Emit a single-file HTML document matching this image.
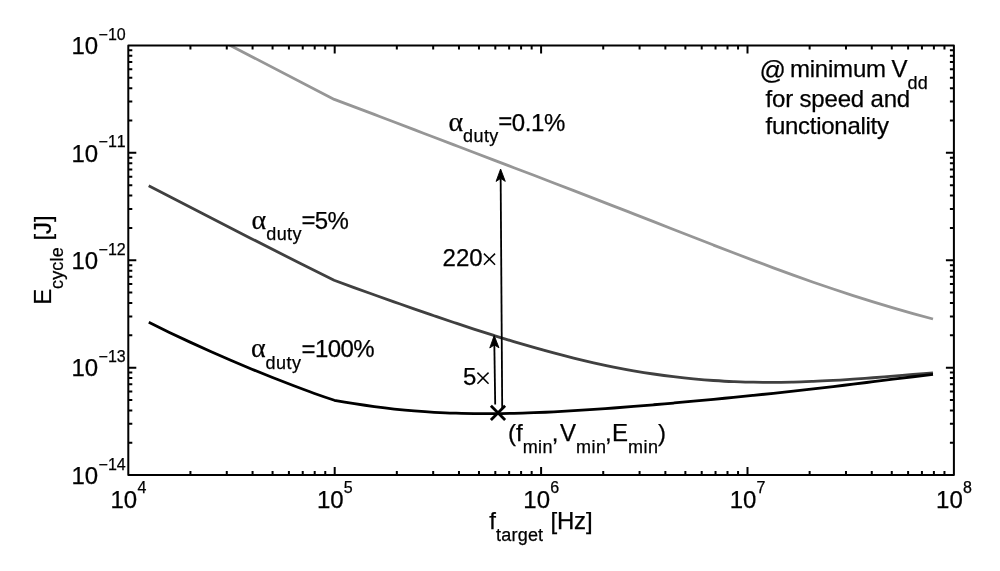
<!DOCTYPE html>
<html lang="en"><head><meta charset="utf-8"><title>E_cycle vs f_target</title>
<style>
html,body{margin:0;padding:0;background:#fff;}
body{width:1000px;height:571px;overflow:hidden;}
svg{display:block;}
text{font-family:"Liberation Sans",sans-serif;fill:#000;stroke:#000;stroke-width:0.25px;font-kerning:none;}
.m{font-size:24px;}
.s{font-size:18px;letter-spacing:0.45px;}
.e{font-size:16px;}
.g{font-family:"Liberation Serif",serif;}
.x{font-family:"Liberation Serif",serif;font-size:30px;stroke:none;}
.a{font-family:"Liberation Serif",serif;font-size:28px;}
</style></head><body>
<svg width="1000" height="571" viewBox="0 0 1000 571">
<rect x="0" y="0" width="1000" height="571" fill="#ffffff"/>
<defs><clipPath id="ax"><rect x="128.3" y="45.4" width="825.6" height="429.65"/></clipPath></defs>
<g fill="none" stroke-width="2.8" stroke-linejoin="round" clip-path="url(#ax)">
<path stroke="#969696" d="M148.7 3.2 L334.3 99.42 C340.95 101.87 347.6 104.34 354.26 106.83 C360.91 109.33 367.56 111.85 374.21 114.38 C380.87 116.9 387.52 119.45 394.17 121.99 C400.82 124.53 407.47 127.08 414.13 129.62 C420.78 132.17 427.43 134.71 434.08 137.26 C440.74 139.8 447.39 142.34 454.04 144.88 C460.69 147.42 467.34 149.95 474 152.49 C480.65 155.02 487.3 157.55 493.95 160.09 C500.61 162.62 507.26 165.15 513.91 167.69 C520.56 170.22 527.21 172.76 533.87 175.3 C540.52 177.84 547.17 180.39 553.82 182.94 C560.48 185.49 567.13 188.05 573.78 190.61 C580.43 193.17 587.08 195.74 593.74 198.32 C600.39 200.89 607.04 203.48 613.69 206.07 C620.35 208.66 627 211.25 633.65 213.85 C640.3 216.45 646.95 219.06 653.61 221.66 C660.26 224.27 666.91 226.88 673.56 229.48 C680.22 232.09 686.87 234.7 693.52 237.3 C700.17 239.89 706.82 242.49 713.48 245.07 C720.13 247.65 726.78 250.23 733.43 252.78 C740.09 255.33 746.74 257.87 753.39 260.38 C760.04 262.89 766.69 265.38 773.35 267.84 C780 270.3 786.65 272.74 793.3 275.13 C799.96 277.52 806.61 279.88 813.26 282.2 C819.91 284.52 826.56 286.8 833.22 289.03 C839.87 291.26 846.52 293.45 853.17 295.59 C859.83 297.72 866.48 299.82 873.13 301.86 C879.78 303.9 886.43 305.89 893.09 307.84 C899.74 309.78 906.39 311.68 913.04 313.54 C919.7 315.4 926.35 317.23 933 319.01"/>
<path stroke="#404040" d="M148.7 185.7 C182.47 203.27 216.23 220.64 250 237.9 C266.67 246.42 283.33 254.94 300 263.3 C311.37 269 322.73 274.64 334.1 280.23 C340.75 282.71 347.41 285.16 354.06 287.58 C360.72 290.01 367.37 292.4 374.03 294.78 C380.68 297.16 387.34 299.52 393.99 301.87 C400.64 304.21 407.3 306.54 413.95 308.85 C420.61 311.16 427.26 313.45 433.92 315.72 C440.57 317.99 447.23 320.24 453.88 322.46 C460.53 324.68 467.19 326.88 473.84 329.05 C480.5 331.21 487.15 333.34 493.81 335.43 C500.46 337.52 507.12 339.58 513.77 341.57 C520.42 343.57 527.08 345.53 533.73 347.43 C540.39 349.32 547.04 351.17 553.7 352.94 C560.35 354.71 567.01 356.43 573.66 358.07 C580.31 359.71 586.97 361.29 593.62 362.77 C600.28 364.26 606.93 365.69 613.59 367.02 C620.24 368.34 626.9 369.61 633.55 370.76 C640.2 371.92 646.86 373.01 653.51 373.99 C660.17 374.97 666.82 375.89 673.48 376.69 C680.13 377.49 686.79 378.23 693.44 378.85 C700.09 379.47 706.75 380.04 713.4 380.48 C720.06 380.92 726.71 381.32 733.37 381.59 C740.02 381.85 746.68 382.12 753.33 382.2 C759.98 382.28 766.64 382.34 773.29 382.34 C779.95 382.34 786.6 382.2 793.26 382.07 C799.91 381.94 806.57 381.67 813.22 381.41 C819.87 381.15 826.53 380.8 833.18 380.43 C839.84 380.07 846.49 379.64 853.15 379.19 C859.8 378.75 866.46 378.25 873.11 377.75 C879.76 377.24 886.42 376.7 893.07 376.16 C899.73 375.62 906.38 375.06 913.04 374.5 C919.69 373.95 926.35 373.39 933 372.83"/>
<path stroke="#000000" d="M148.8 322.34 C155.67 325.76 162.55 329.11 169.42 332.41 C176.3 335.7 183.17 338.95 190.04 342.13 C196.92 345.31 203.79 348.44 210.67 351.5 C217.54 354.57 224.41 357.58 231.29 360.53 C238.16 363.49 245.04 366.38 251.91 369.22 C258.79 372.06 265.66 374.84 272.53 377.56 C279.41 380.28 286.28 382.95 293.16 385.56 C300.03 388.16 306.9 390.76 313.78 393.21 C320.65 395.65 327.53 398.01 334.4 400.26 C341.05 401.49 347.7 402.65 354.35 403.71 C361 404.76 367.66 405.76 374.31 406.64 C380.96 407.52 387.61 408.34 394.26 409.04 C400.91 409.74 407.56 410.39 414.21 410.91 C420.86 411.44 427.52 411.92 434.17 412.28 C440.82 412.64 447.47 412.97 454.12 413.16 C460.77 413.36 467.42 413.58 474.07 413.61 C480.72 413.63 487.38 413.65 494.03 413.65 C500.68 413.65 507.33 413.47 513.98 413.33 C520.63 413.2 527.28 412.96 533.93 412.71 C540.58 412.47 547.24 412.15 553.89 411.83 C560.54 411.5 567.19 411.12 573.84 410.72 C580.49 410.32 587.14 409.88 593.79 409.43 C600.44 408.97 607.1 408.49 613.75 407.99 C620.4 407.49 627.05 406.96 633.7 406.43 C640.35 405.89 647 405.33 653.65 404.77 C660.3 404.2 666.96 403.62 673.61 403.03 C680.26 402.43 686.91 401.83 693.56 401.21 C700.21 400.6 706.86 399.97 713.51 399.33 C720.16 398.69 726.82 398.05 733.47 397.39 C740.12 396.73 746.77 396.05 753.42 395.37 C760.07 394.69 766.72 393.99 773.37 393.28 C780.02 392.57 786.68 391.85 793.33 391.12 C799.98 390.38 806.63 389.63 813.28 388.87 C819.93 388.11 826.58 387.33 833.23 386.54 C839.88 385.76 846.54 384.95 853.19 384.15 C859.84 383.34 866.49 382.51 873.14 381.69 C879.79 380.87 886.44 380.03 893.09 379.21 C899.74 378.38 906.4 377.55 913.05 376.74 C919.7 375.94 926.35 375.14 933 374.36"/>
</g>
<path d="M190.43 475.05 v-4 M190.43 45.4 v4 M226.78 475.05 v-4 M226.78 45.4 v4 M252.57 475.05 v-4 M252.57 45.4 v4 M272.57 475.05 v-4 M272.57 45.4 v4 M288.91 475.05 v-4 M288.91 45.4 v4 M302.73 475.05 v-4 M302.73 45.4 v4 M314.7 475.05 v-4 M314.7 45.4 v4 M325.26 475.05 v-4 M325.26 45.4 v4 M334.7 475.05 v-8 M334.7 45.4 v8 M396.83 475.05 v-4 M396.83 45.4 v4 M433.18 475.05 v-4 M433.18 45.4 v4 M458.97 475.05 v-4 M458.97 45.4 v4 M478.97 475.05 v-4 M478.97 45.4 v4 M495.31 475.05 v-4 M495.31 45.4 v4 M509.13 475.05 v-4 M509.13 45.4 v4 M521.1 475.05 v-4 M521.1 45.4 v4 M531.66 475.05 v-4 M531.66 45.4 v4 M541.1 475.05 v-8 M541.1 45.4 v8 M603.23 475.05 v-4 M603.23 45.4 v4 M639.58 475.05 v-4 M639.58 45.4 v4 M665.37 475.05 v-4 M665.37 45.4 v4 M685.37 475.05 v-4 M685.37 45.4 v4 M701.71 475.05 v-4 M701.71 45.4 v4 M715.53 475.05 v-4 M715.53 45.4 v4 M727.5 475.05 v-4 M727.5 45.4 v4 M738.06 475.05 v-4 M738.06 45.4 v4 M747.5 475.05 v-8 M747.5 45.4 v8 M809.63 475.05 v-4 M809.63 45.4 v4 M845.98 475.05 v-4 M845.98 45.4 v4 M871.77 475.05 v-4 M871.77 45.4 v4 M891.77 475.05 v-4 M891.77 45.4 v4 M908.11 475.05 v-4 M908.11 45.4 v4 M921.93 475.05 v-4 M921.93 45.4 v4 M933.9 475.05 v-4 M933.9 45.4 v4 M944.46 475.05 v-4 M944.46 45.4 v4 M128.3 442.72 h4 M953.9 442.72 h-4 M128.3 423.8 h4 M953.9 423.8 h-4 M128.3 410.38 h4 M953.9 410.38 h-4 M128.3 399.97 h4 M953.9 399.97 h-4 M128.3 391.47 h4 M953.9 391.47 h-4 M128.3 384.28 h4 M953.9 384.28 h-4 M128.3 378.05 h4 M953.9 378.05 h-4 M128.3 372.55 h4 M953.9 372.55 h-4 M128.3 367.64 h8 M953.9 367.64 h-8 M128.3 335.3 h4 M953.9 335.3 h-4 M128.3 316.39 h4 M953.9 316.39 h-4 M128.3 302.97 h4 M953.9 302.97 h-4 M128.3 292.56 h4 M953.9 292.56 h-4 M128.3 284.05 h4 M953.9 284.05 h-4 M128.3 276.86 h4 M953.9 276.86 h-4 M128.3 270.63 h4 M953.9 270.63 h-4 M128.3 265.14 h4 M953.9 265.14 h-4 M128.3 260.23 h8 M953.9 260.23 h-8 M128.3 227.89 h4 M953.9 227.89 h-4 M128.3 208.98 h4 M953.9 208.98 h-4 M128.3 195.56 h4 M953.9 195.56 h-4 M128.3 185.15 h4 M953.9 185.15 h-4 M128.3 176.64 h4 M953.9 176.64 h-4 M128.3 169.45 h4 M953.9 169.45 h-4 M128.3 163.22 h4 M953.9 163.22 h-4 M128.3 157.73 h4 M953.9 157.73 h-4 M128.3 152.81 h8 M953.9 152.81 h-8 M128.3 120.48 h4 M953.9 120.48 h-4 M128.3 101.56 h4 M953.9 101.56 h-4 M128.3 88.14 h4 M953.9 88.14 h-4 M128.3 77.73 h4 M953.9 77.73 h-4 M128.3 69.23 h4 M953.9 69.23 h-4 M128.3 62.04 h4 M953.9 62.04 h-4 M128.3 55.81 h4 M953.9 55.81 h-4 M128.3 50.31 h4 M953.9 50.31 h-4" stroke="#000" stroke-width="2.0" fill="none"/>
<rect x="128.3" y="45.4" width="825.6" height="429.65" fill="none" stroke="#000" stroke-width="2.0" stroke-linejoin="round"/>
<text class="m" x="110.5" y="507.5">10<tspan class="e" dy="-14.5" dx="0.2">4</tspan></text>
<text class="m" x="316.9" y="507.5">10<tspan class="e" dy="-14.5" dx="0.2">5</tspan></text>
<text class="m" x="523.3" y="507.5">10<tspan class="e" dy="-14.5" dx="0.2">6</tspan></text>
<text class="m" x="729.7" y="507.5">10<tspan class="e" dy="-14.5" dx="0.2">7</tspan></text>
<text class="m" x="936.1" y="507.5">10<tspan class="e" dy="-14.5" dx="0.2">8</tspan></text>
<text class="m" x="71.4" y="483.75">10<tspan class="e" dy="-14.2" dx="0.5">−14</tspan></text>
<text class="m" x="71.4" y="376.34">10<tspan class="e" dy="-14.2" dx="0.5">−13</tspan></text>
<text class="m" x="71.4" y="268.93">10<tspan class="e" dy="-14.2" dx="0.5">−12</tspan></text>
<text class="m" x="71.4" y="161.51">10<tspan class="e" dy="-14.2" dx="0.5">−11</tspan></text>
<text class="m" x="71.4" y="54.1">10<tspan class="e" dy="-14.2" dx="0.5">−10</tspan></text>
<text class="m" x="489.3" y="528.8">f</text>
<text class="s" x="496.1" y="540.6" style="letter-spacing:0.2px">target</text>
<text class="m" x="550.5" y="528.8" style="letter-spacing:-0.2px">[Hz]</text>
<g transform="translate(51.3 303.5) rotate(-90)"><text class="m" x="-1.2" y="0">E</text><text class="s" x="14.5" y="11.2" style="letter-spacing:0.16px">cycle</text><text class="m" x="62.9" y="0">[J]</text></g>
<text class="a" x="448.4" y="130.6">α</text>
<text class="s" x="463" y="141.8">duty</text>
<text class="m" x="498.2" y="130.6" style="letter-spacing:-0.4px"><tspan dy="-1.3">=</tspan><tspan dy="1.3">0.1%</tspan></text>
<text class="a" x="251.6" y="228.5">α</text>
<text class="s" x="266.2" y="240">duty</text>
<text class="m" x="301.4" y="228.5" style="letter-spacing:-0.6px"><tspan dy="-1">=</tspan><tspan dy="1">5%</tspan></text>
<text class="a" x="251" y="357.3">α</text>
<text class="s" x="265.6" y="369.4">duty</text>
<text class="m" x="301.6" y="357.3" style="letter-spacing:-0.6px"><tspan dy="-0.5">=</tspan><tspan dy="0.5">100%</tspan></text>
<text class="m" x="442.6" y="265.5">220</text>
<text class="x" x="480.9" y="268.7">×</text>
<text class="m" x="463" y="384.8">5</text>
<text class="x" x="474.4" y="388.2">×</text>
<text class="m" x="508" y="441.1">(f<tspan class="s" dy="12">min</tspan><tspan dy="-12" dx="-1.4">,</tspan></text>
<text class="m" x="560" y="441.1">V<tspan class="s" dy="12">min</tspan><tspan dy="-12" dx="-1.4">,</tspan></text>
<text class="m" x="612" y="441.1">E<tspan class="s" dy="12">min</tspan><tspan dy="-12" dx="-0.3">)</tspan></text>
<text class="m" x="759.5" y="79.1" style="font-size:26px">@</text>
<text class="m" x="789.9" y="77.3" style="letter-spacing:-0.2px">minimum</text>
<text class="m" x="891.4" y="77.3">V</text>
<text class="s" x="907.4" y="89.3">dd</text>
<text class="m" x="765.6" y="107.4" style="letter-spacing:-0.18px">for speed and</text>
<text class="m" x="765.6" y="134.3" style="letter-spacing:-0.28px">functionality</text>
<path d="M502.2 408 L500.66 178.4" stroke="#000" stroke-width="1.8" fill="none"/>
<path d="M500.6 169 L505.28 181.37 L500.66 178.4 L496.08 181.43 Z" fill="#000" stroke="#000" stroke-width="0.9" stroke-linejoin="round"/>
<path d="M495.2 404.5 L494.34 344.9" stroke="#000" stroke-width="1.8" fill="none"/>
<path d="M494.2 335.5 L498.98 347.83 L494.34 344.9 L489.78 347.97 Z" fill="#000" stroke="#000" stroke-width="0.9" stroke-linejoin="round"/>
<path d="M490.9 405.8 L505.1 420 M490.9 420 L505.1 405.8" stroke="#000" stroke-width="2.8" fill="none"/>
</svg>
</body></html>
